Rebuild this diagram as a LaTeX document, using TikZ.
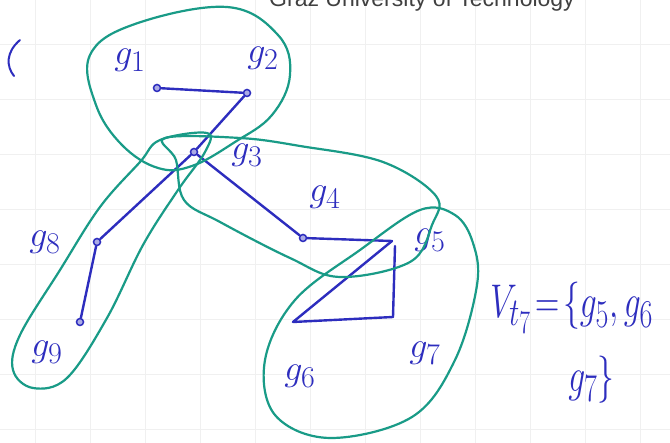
\documentclass[tikz,border=0pt]{standalone}
\usepackage{fontspec}
\newfontfamily\headfont{Liberation Sans}
\definecolor{ink}{RGB}{45,45,190}
\definecolor{loop}{RGB}{25,155,135}
\begin{document}
\begin{tikzpicture}[x=1pt,y=-1pt,
  vert/.style={circle,draw=ink,fill=ink!40,line width=1.5pt,inner sep=0pt,minimum size=7pt},
  lab/.style={text=ink,font=\Huge,scale=1.45},
  big/.style={text=ink,font=\Huge,anchor=base west,inner sep=0pt,xscale=1.35,yscale=1.9},
  edge/.style={draw=ink,line width=2.4pt,line cap=round,line join=round},
  hull/.style={draw=loop,line width=2.2pt}]
\useasboundingbox (0,0) rectangle (670,443);
\fill[white] (0,0) rectangle (670,443);
\foreach \x in {35,90,...,670} \draw[black!6,line width=1pt] (\x,0) -- (\x,443);
\foreach \y in {45,100,...,443} \draw[black!6,line width=1pt] (0,\y) -- (670,\y);
\node[anchor=base,font=\headfont\fontsize{23}{26}\selectfont,text=black!75] (head) at (422,7) {Graz University of Technology};
% paren
\draw[ink,line width=2pt,line cap=round] (20,40) .. controls (6,52) and (6,66) .. (14,76);
% vertices
\node[vert] (v1) at (157,88) {};
\node[vert] (v2) at (247,93) {};
\node[vert] (v3) at (194,152) {};
\node[vert] (v4) at (303,238) {};
\coordinate (v5) at (392,241);
\coordinate (v6) at (293,322);
\coordinate (v7) at (393,317);
\coordinate (v57) at (395,246);
\node[vert] (v8) at (97,242) {};
\node[vert] (v9) at (80,322) {};
% edges
\draw[edge] (v1) -- (v2);
\draw[edge] (v2) -- (v3);
\draw[edge] (v3) -- (v4);
\draw[edge] (v3) -- (v8);
\draw[edge] (v8) -- (v9);
\draw[edge] (v4) -- (v5);
\draw[edge] (v5) -- (v6) -- (v7);
\draw[edge] (v57) -- (v7);
% labels
\node[lab] (g1) at (130,60) {$g_1$};
\node[lab] (g2) at (263,58) {$g_2$};
\node[lab] (g3) at (247,155) {$g_3$};
\node[lab] (g4) at (325,197) {$g_4$};
\node[lab] (g5) at (430,240) {$g_5$};
\node[lab] (g6) at (300,376) {$g_6$};
\node[lab] (g7) at (425,353) {$g_7$};
\node[lab] (g8) at (45,242) {$g_8$};
\node[lab] (g9) at (47,352) {$g_9$};
\node[big] (vt) at (490,318) {$V_{t_7}\!=\!\{g_5,g_6$};
\node[big] (vt2) at (568,392) {$g_7\}$};
% hulls
\draw[hull] plot[smooth cycle,tension=0.65] coordinates {(90,55) (135,24) (227,7) (278,35) (290,75) (272,115) (235,142) (192,166) (158,168) (122,145) (96,105)};
\draw[hull] plot[smooth cycle,tension=0.6] coordinates {(165,138) (240,138) (300,146) (383,162) (436,196) (432,225) (410,262) (340,277) (290,258) (220,222) (184,200) (176,160)};
\draw[hull] plot[smooth cycle,tension=0.6] coordinates {(160,140) (207,133) (205,152) (178,190) (143,245) (107,318) (67,378) (33,388) (13,370) (20,335) (60,270) (100,207) (140,162)};
\draw[hull] plot[smooth cycle,tension=0.6] coordinates {(420,210) (455,215) (473,243) (477,285) (455,360) (412,417) (330,438) (275,415) (265,360) (295,300) (360,250)};
\end{tikzpicture}
\end{document}
